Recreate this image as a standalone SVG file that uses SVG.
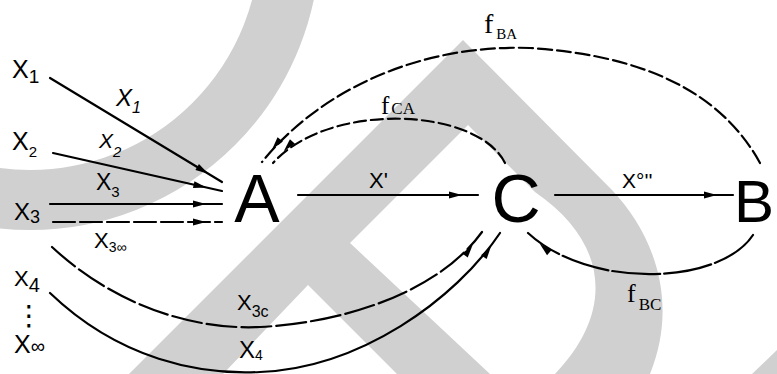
<svg xmlns="http://www.w3.org/2000/svg" width="777" height="374" viewBox="0 0 777 374">
<style>
.wm{fill:#d0d0d0;stroke:none}
.ln{fill:none;stroke:#000;stroke-width:2.2;stroke-linecap:round}
.arr{marker-end:url(#ah)}
.t{font-family:"Liberation Sans",Arial,sans-serif;fill:#000}
.f{font-family:"Liberation Serif","Times New Roman",serif;fill:#000}
.big{font-family:"Liberation Sans",Arial,sans-serif;font-size:68px;fill:#000}
</style>
<defs>
<marker id="ah" viewBox="0 0 30 8" markerUnits="userSpaceOnUse" markerWidth="30" markerHeight="8" refX="29" refY="4" orient="auto" overflow="visible">
<path d="M0,0.6 L13,4 L0,7.4 Z" fill="#000"/>
</marker>
</defs>
<rect width="777" height="374" fill="#fff"/>
<g id="watermark">
<circle cx="30" cy="-60" r="260" style="fill:none;stroke:#d0d0d0;stroke-width:60"/>
<path class="wm" d="M129,374 L463,40 L612,190 C652,232 680,300 650,374 L555,374 C612,315 612,245 535,192 L468,125 L350,243 L490,374 L397,374 L308,285 L223,374 Z"/>
<path class="wm" d="M777,350 L777,374 L752,374 Z"/>
</g>
<g id="connectors">
<path class="ln arr" d="M50,78 L222,182"/>
<path class="ln arr" d="M53,153 L222,191"/>
<path class="ln arr" d="M50,204 L222,204"/>
<path class="ln arr" d="M53,222 L222,222" stroke-dasharray="22 5"/>
<path class="ln arr" d="M298,195 L478,195"/>
<path class="ln arr" d="M555,195 L733,195"/>
<path class="ln arr" d="M760,163 C720,90 640,55 530,48 C420,44 320,90 262,162" stroke-dasharray="14 5"/>
<path class="ln arr" d="M505,163 C478,108 330,100 273,163" stroke-dasharray="12 5"/>
<path class="ln arr" d="M52,247 C120,310 200,330 260,327 C350,322 440,290 482,232" stroke-dasharray="30 5"/>
<path class="ln arr" d="M50,293 C120,360 200,375 260,372 C360,368 455,300 500,233"/>
<path class="ln arr" d="M753,235 C720,285 590,290 528,233" stroke-dasharray="48 4"/>
</g>
<g id="node-A"><text class="big" x="257" y="222" text-anchor="middle">A</text></g>
<g id="node-C"><text class="big" x="516" y="222" text-anchor="middle">C</text></g>
<g id="node-B"><text class="big" x="734" y="222" style="font-size:60px">B</text></g>
<g id="node-X1"><text class="t" x="12" y="78" font-size="25">X<tspan font-size="19" dy="5">1</tspan></text></g>
<g id="node-X2"><text class="t" x="12" y="150" font-size="25">X<tspan font-size="15" dy="7">2</tspan></text></g>
<g id="node-X3"><text class="t" x="14" y="220" font-size="24">X<tspan font-size="18" dy="3">3</tspan></text></g>
<g id="node-X4"><text class="t" x="14" y="286" font-size="22">X<tspan font-size="20" dy="6">4</tspan></text></g>
<g id="node-dots"><text x="15" y="325" font-family="DejaVu Sans,sans-serif" font-size="28">⋮</text></g>
<g id="node-Xinf"><text class="t" x="14" y="353" font-size="25">X<tspan font-size="20">∞</tspan></text></g>
<g id="labels">
<text class="t" x="116" y="106" font-size="24" font-style="italic">X<tspan font-size="16" dy="7">1</tspan></text>
<text class="t" x="99" y="148" font-size="21" font-style="italic">X<tspan font-size="15" dy="9">2</tspan></text>
<text class="t" x="96" y="190" font-size="23">X<tspan font-size="15" dy="7">3</tspan></text>
<text class="t" x="94" y="248" font-size="22">X<tspan font-size="14" dy="4">3∞</tspan></text>
<text class="t" x="369" y="188" font-size="22">X'</text>
<text class="t" x="622" y="188" font-size="21">X°''</text>
<text class="f" x="484" y="33" font-size="28">f<tspan font-size="15" dy="6" dx="3">BA</tspan></text>
<text class="f" x="381" y="114" font-size="25">f<tspan font-size="17" dx="2">CA</tspan></text>
<text class="f" x="627" y="302" font-size="26">f<tspan font-size="17" dy="8" dx="3">BC</tspan></text>
<text class="t" x="237" y="310" font-size="22">X<tspan font-size="16" dy="7">3c</tspan></text>
<text class="t" x="239" y="358" font-size="24">X<tspan font-size="14" dy="2">4</tspan></text>
</g>
</svg>
